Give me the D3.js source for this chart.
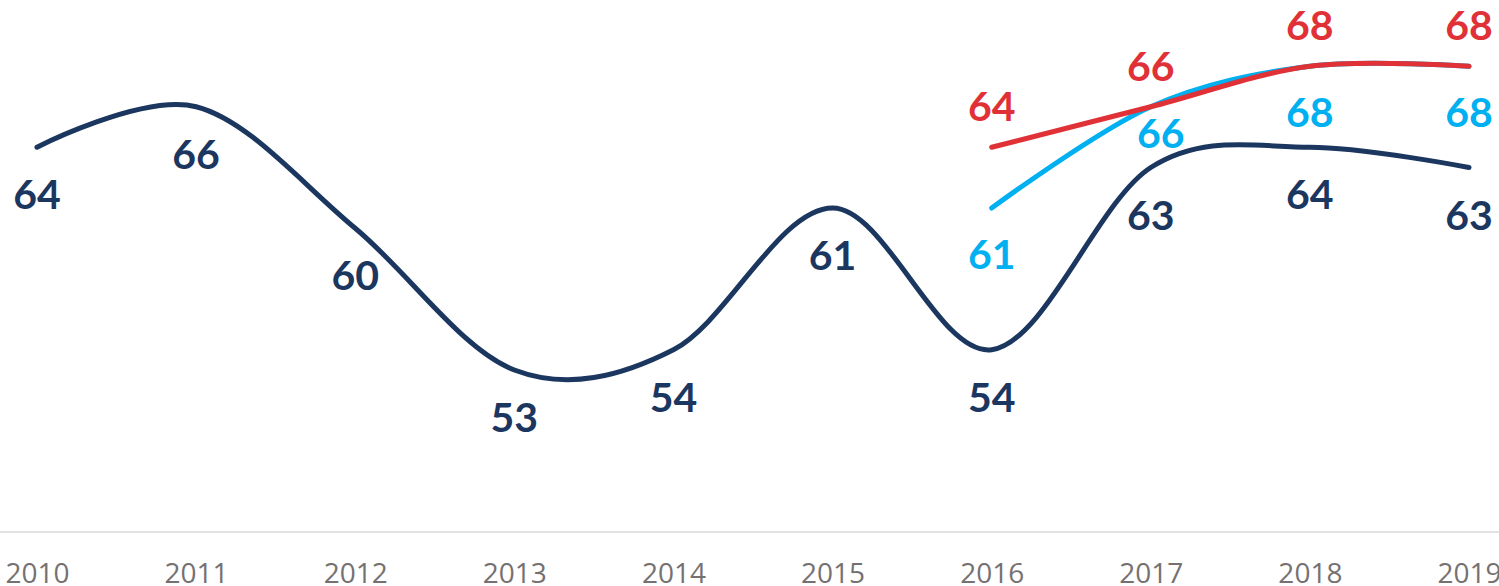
<!DOCTYPE html>
<html lang="en">
<head>
  <meta charset="UTF-8">
  <title>Index 2010-2019</title>
  <script src="https://d3js.org/d3.v7.min.js"></script>
  <style>
    html, body {
      margin: 0;
      padding: 0;
      background: #ffffff;
    }
    svg {
      display: block;
    }
    .axis-x text {
      font-family: "Open Sans", "Liberation Sans", sans-serif;
      font-size: 28px;
      fill: #767171;
    }
    .value-label {
      font-family: Lato, "Open Sans", sans-serif;
      font-weight: 700;
      font-size: 41px;
      text-anchor: middle;
    }
  </style>
</head>
<body>
  <div id="chart-area"></div>

  <script>
    // data
    const years = ["2010", "2011", "2012", "2013", "2014", "2015", "2016", "2017", "2018", "2019"];
    const navyValues = [64, 66, 60, 53, 54, 61, 54, 63, 64, 63];
    const cyanValues = [null, null, null, null, null, null, 61, 66, 68, 68];
    const redValues = [null, null, null, null, null, null, 64, 66, 68, 68];

    const chartWidth = 1499;
    const chartHeight = 586;
    const baselineY = 532;

    const svg = d3.select("#chart-area")
      .append("svg")
      .attr("width", chartWidth)
      .attr("height", chartHeight);

    const xScale = d3.scalePoint()
      .domain(years)
      .range([37, 1469]);

    const yScale = d3.scaleLinear()
      .domain([45, 70])
      .range([baselineY, 25.75]);

    // light baseline across the whole width
    svg.append("line")
      .attr("x1", 0)
      .attr("x2", chartWidth)
      .attr("y1", baselineY)
      .attr("y2", baselineY)
      .attr("stroke", "#d9d9d9")
      .attr("stroke-width", 1.5);

    const xAxis = svg.append("g")
      .attr("class", "axis-x")
      .attr("transform", `translate(0, ${baselineY})`)
      .call(d3.axisBottom(xScale).tickSize(0));
    xAxis.select(".domain").remove();
    xAxis.selectAll("text")
      .attr("y", 51)
      .attr("dy", 0);

    const series = [
      { name: "navy", values: navyValues, color: "#1b365f", labelDy: 62 },
      { name: "cyan", values: cyanValues, color: "#00b0f0", labelDy: 61 },
      { name: "red", values: redValues, color: "#e03137", labelDy: -26 }
    ];

    // one label sits closer to its line in the original
    const labelTweaks = { "cyan-2017": { dx: 10, dy: 41 } };

    const lineGen = d3.line()
      .defined(d => d.value !== null)
      .x(d => xScale(d.year))
      .y(d => yScale(d.value))
      .curve(d3.curveCardinal.tension(0));

    series.forEach(s => {
      const points = years.map((year, i) => ({ year, value: s.values[i] }));

      svg.append("path")
        .datum(points)
        .attr("fill", "none")
        .attr("stroke", s.color)
        .attr("stroke-width", 5)
        .attr("stroke-linecap", "round")
        .attr("stroke-linejoin", "round")
        .attr("d", lineGen);
    });

    series.forEach(s => {
      const points = years.map((year, i) => ({ year, value: s.values[i] }))
        .filter(d => d.value !== null);

      svg.selectAll(`.label-${s.name}`)
        .data(points)
        .enter()
        .append("text")
        .attr("class", `value-label label-${s.name}`)
        .attr("fill", s.color)
        .attr("x", d => {
          const tweak = labelTweaks[`${s.name}-${d.year}`];
          return xScale(d.year) + (tweak ? tweak.dx : 0);
        })
        .attr("y", d => {
          const tweak = labelTweaks[`${s.name}-${d.year}`];
          return yScale(d.value) + (tweak ? tweak.dy : s.labelDy);
        })
        .text(d => d.value);
    });
  </script>
</body>
</html>
